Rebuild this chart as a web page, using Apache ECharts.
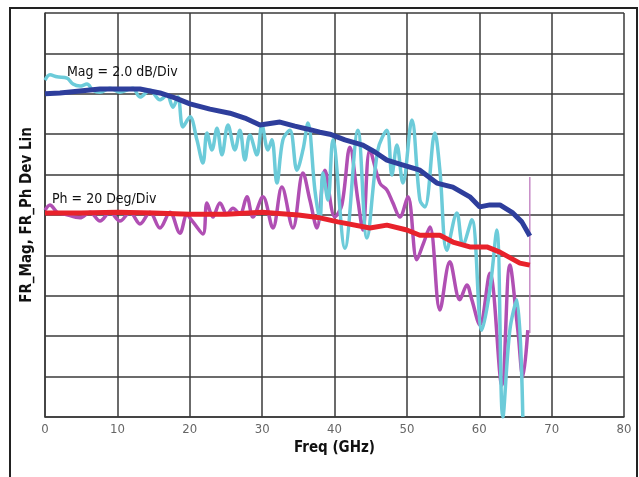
<!DOCTYPE html>
<html>
<head>
<meta charset="utf-8">
<script src="https://cdn.jsdelivr.net/npm/echarts@6/dist/echarts.min.js"></script>
<style>
html,body{margin:0;padding:0;background:#fff;}
#chart{width:639px;height:477px;}
</style>
</head>
<body>
<div id="chart"></div>
<script>
// Frequency axis ticks (GHz)
const freqTicks = [0, 10, 20, 30, 40, 50, 60, 70, 80];
// Y values in screen divisions (Mag: 2.0 dB/Div, Ph: 20 Deg/Div)
const magSmooth = [[0,8.0],[2.07,8.02],[4.83,8.07],[7.6,8.12],[9.94,8.12],[13.12,8.12],[15.88,8.02],[17.96,7.9],[20.03,7.75],[22.79,7.62],[25.55,7.52],[27.62,7.4],[29.7,7.23],[32.46,7.3],[34.53,7.2],[36.19,7.13],[37.98,7.05],[39.36,7.0],[41.44,6.86],[43.92,6.73],[45.58,6.56],[47.24,6.36],[49.03,6.26],[51.8,6.11],[54.14,5.79],[56.35,5.69],[58.7,5.45],[60.08,5.2],[61.46,5.25],[62.85,5.25],[64.64,5.05],[65.88,4.83],[66.99,4.48]];
const phSmooth = [[0,5.05],[5,5.05],[10,5.07],[15,5.05],[20,5.02],[25,5.02],[30,5.07],[35,5.0],[37.98,4.93],[40.47,4.83],[44.89,4.68],[47.24,4.75],[50,4.63],[51.8,4.5],[54.56,4.5],[56.35,4.33],[58.7,4.21],[61.05,4.21],[62.85,4.08],[65.61,3.81],[66.99,3.76]];
const magRaw = [[0,8.34],[0.69,8.47],[1.66,8.42],[3.04,8.39],[3.87,8.24],[4.83,8.19],[5.8,8.24],[6.63,8.09],[7.6,8.04],[8.98,8.14],[10.36,8.04],[11.33,8.09],[12.15,8.14],[13.12,7.92],[14.5,8.09],[15.88,7.85],[16.85,7.97],[17.68,7.67],[18.37,7.92],[19.06,7.18],[20.03,7.43],[20.99,6.86],[21.82,6.29],[22.38,7.03],[23.07,6.61],[23.76,7.15],[24.45,6.49],[25.28,7.23],[26.24,6.61],[26.93,7.1],[27.62,6.36],[28.31,6.98],[29.28,6.49],[29.97,7.23],[30.8,6.61],[31.35,6.86],[32.04,5.79],[32.87,6.86],[33.84,7.1],[34.81,6.11],[35.64,6.61],[36.33,7.28],[37.29,5.62],[37.98,4.88],[38.4,6.04],[39.09,5.37],[39.78,6.86],[41.44,4.18],[43.23,7.1],[44.48,4.43],[45.99,6.61],[47.24,7.1],[47.93,5.99],[48.62,6.73],[49.45,5.79],[50.69,7.35],[51.8,5.37],[52.49,5.2],[53.87,7.03],[54.56,6.11],[55.52,4.13],[56.91,5.05],[57.73,4.26],[58.98,4.88],[60.36,2.15],[61.46,3.14],[62.43,4.63],[63.26,0],[64.23,2.15],[65.19,2.9],[66.02,0]];
const phRaw = [[0,5.12],[0.69,5.25],[1.66,5.07],[2.76,5.02],[4.83,4.93],[6.22,5.07],[7.6,4.85],[8.98,5.07],[10.36,4.85],[11.74,5.07],[13.12,4.78],[14.5,5.07],[15.88,4.68],[17.27,5.07],[18.65,4.55],[19.61,5.0],[20.44,4.83],[21.82,4.53],[22.38,5.3],[23.2,4.95],[24.17,5.3],[25.14,5.02],[25.97,5.17],[26.93,5.02],[27.9,5.45],[28.73,4.95],[30.11,5.45],[31.49,4.68],[32.73,5.69],[34.25,4.68],[35.64,6.04],[36.6,5.37],[37.57,4.68],[38.67,6.11],[40.06,4.95],[41.02,5.25],[42.13,6.68],[43.23,5.37],[43.92,4.63],[44.89,6.61],[46.27,5.79],[47.24,5.62],[48.07,5.3],[49.03,4.95],[50.14,5.45],[51.38,3.89],[52.21,4.26],[53.18,4.7],[54.56,2.65],[55.94,3.84],[57.32,2.9],[58.29,3.27],[58.98,2.9],[60.08,2.28],[61.46,3.56],[63.12,0.79],[64.23,3.76],[65.33,2.15],[66.02,0.99],[66.71,2.15]];
const phSpike = [[66.99,2.08],[66.99,5.94]];
const labels = ['Mag = 2.0 dB/Div', 'Ph = 20 Deg/Div'];

const chart = echarts.init(document.getElementById('chart'));
const gridColor = '#3a3a3a';
const narrow = '"Liberation Sans Narrow","DejaVu Sans Condensed",sans-serif';
chart.setOption({
  animation: false,
  backgroundColor: '#fff',
  grid: {left: 45, right: 15, top: 13, bottom: 60},
  xAxis: {
    type: 'value', min: 0, max: 80, interval: 10,
    name: 'Freq (GHz)', nameLocation: 'middle', nameGap: 24,
    nameTextStyle: {fontFamily: narrow, fontWeight: 'bold', fontSize: 15, color: '#111'},
    axisLine: {show: true, lineStyle: {color: gridColor, width: 1.5}},
    axisTick: {show: false},
    axisLabel: {color: '#666', fontFamily: narrow, fontSize: 13, margin: 6,
      formatter: v => freqTicks.includes(v) ? String(v) : ''},
    splitLine: {show: true, lineStyle: {color: gridColor, width: 1.5}}
  },
  yAxis: {
    type: 'value', min: 0, max: 10, interval: 1,
    name: 'FR_Mag, FR_Ph Dev Lin', nameLocation: 'middle', nameGap: 10,
    nameTextStyle: {fontFamily: narrow, fontWeight: 'bold', fontSize: 15, color: '#111'},
    axisLine: {show: true, lineStyle: {color: gridColor, width: 1.5}},
    axisTick: {show: false},
    axisLabel: {show: false},
    splitLine: {show: true, lineStyle: {color: gridColor, width: 1.5}}
  },
  graphic: [
    {type: 'rect', shape: {x: 10, y: 8, width: 627, height: 520}, style: {fill: 'none', stroke: '#222', lineWidth: 2}, silent: true},
    {type: 'text', left: 67, top: 65, style: {text: labels[0], font: '14px ' + narrow, fill: '#111'}, z: 100},
    {type: 'text', left: 52, top: 192, style: {text: labels[1], font: '14px ' + narrow, fill: '#111'}, z: 100}
  ],
  series: [
    {name: 'FR_Ph raw', type: 'line', data: phRaw, smooth: 0.35, showSymbol: false, lineStyle: {color: '#b04fb3', width: 3.5}, z: 2},
    {name: 'FR_Mag raw', type: 'line', data: magRaw, smooth: 0.35, showSymbol: false, lineStyle: {color: '#6ccbd9', width: 3.5}, z: 3},
    {name: 'FR_Ph spike', type: 'line', data: phSpike, showSymbol: false, lineStyle: {color: '#b86fb8', width: 1.2}, z: 2},
    {name: 'FR_Mag', type: 'line', data: magSmooth, showSymbol: false, lineStyle: {color: '#2e3e9c', width: 5}, z: 4},
    {name: 'FR_Ph Dev Lin', type: 'line', data: phSmooth, showSymbol: false, lineStyle: {color: '#e8222b', width: 5}, z: 5}
  ]
});
</script>
</body>
</html>
